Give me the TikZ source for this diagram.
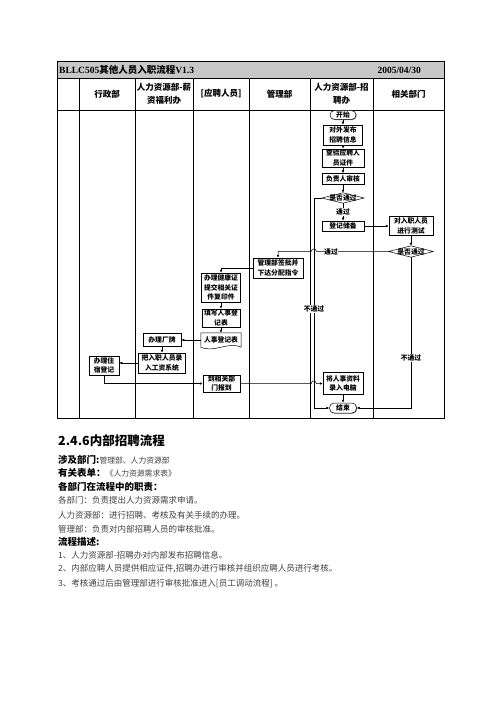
\documentclass[tikz,border=0pt]{standalone}
\usepackage{fontspec}
\setmainfont{Noto Sans CJK SC}
\newfontfamily\lat{Liberation Serif}
\usetikzlibrary{arrows.meta,calc,shadows}
\newcommand\bodyf{\fontsize{8.5}{10}\selectfont\color{black!75}}
\newcommand\smallbodyf{\fontsize{7.8}{10}\selectfont\color{black!75}}
\newcommand\headf{\fontsize{9.5}{12}\selectfont\bfseries}
\begin{document}
\begin{tikzpicture}[x=1pt,y=-1pt,
  tbl/.style={line width=0.6pt},
  box/.style={draw, line width=0.5pt, fill=white, inner sep=0pt, align=center,
    font=\fontsize{6.8}{9.5}\selectfont\bfseries,
    drop shadow={shadow xshift=0.7pt,shadow yshift=-0.7pt,fill=black!60,opacity=0.8}},
  term/.style={box, rounded corners=4.5pt},
  dia/.style={inner sep=0pt},
  dtxt/.style={inner sep=0pt, font=\fontsize{6.8}{9}\selectfont\bfseries},
  arr/.style={-{Latex[length=3pt,width=2.6pt]}, line width=0.5pt},
  lbl/.style={fill=white, inner sep=0.6pt, font=\fontsize{6.8}{8}\selectfont\bfseries},
  hd/.style={font=\fontsize{8.5}{13}\selectfont\bfseries, align=center, inner sep=0pt},
  hb/.style={anchor=west, inner sep=0pt}
]
\useasboundingbox (0,0) rectangle (500,708);

% ---------- table frame ----------
\fill[black!22] (57,61) rectangle (444,78);
\draw[tbl] (57,61) rectangle (444,418);
\draw[tbl] (57,78) -- (444,78);
\draw[tbl] (57,110) -- (444,110);
\foreach \x in {79,135,193,249,310,373} \draw[tbl] (\x,78) -- (\x,418);

\node[anchor=west, inner sep=0pt, font=\fontsize{9.5}{11}\selectfont\bfseries] (title) at (59,70) {{\lat BLLC505}其他人员入职流程{\lat V1.3}};
\node[anchor=east, inner sep=0pt, font=\fontsize{9.5}{11}\selectfont\bfseries] (date) at (421,70) {\lat 2005/04/30};

\node[hd] (h1) at (107,94) {行政部};
\node[hd] (h2) at (164,94) {人力资源部-薪\\资福利办};
\node[hd] (h3) at (221,94) {[应聘人员]};
\node[hd] (h4) at (279.5,94) {管理部};
\node[hd] (h5) at (341.5,94) {人力资源部-招\\聘办};
\node[hd] (h6) at (408.5,94) {相关部门};

% ---------- flow nodes ----------
\node[term, minimum width=26pt, minimum height=9pt] (s) at (343,115) {开始};
\node[box, minimum width=39pt, minimum height=20pt] (a1) at (343,135) {对外发布\\招聘信息};
\node[box, minimum width=42pt, minimum height=18pt] (a2) at (343,158) {查验应聘人\\员证件};
\node[box, minimum width=42pt, minimum height=11pt] (a3) at (343,179) {负责人审核};
\node[dia, minimum width=42pt, minimum height=10pt] (d1) at (343,198) {};
\draw[line width=0.5pt, fill=white] (d1.west) -- (d1.north) -- (d1.east) -- (d1.south) -- cycle;
\node[dtxt] (d1t) at (d1) {是否通过};
\node[box, minimum width=42pt, minimum height=10pt] (a4) at (343,226) {登记储备};
\node[box, minimum width=44pt, minimum height=19pt] (b1) at (411,226) {对入职人员\\进行测试};
\node[dia, minimum width=44pt, minimum height=11pt] (d2) at (411,251.5) {};
\draw[line width=0.5pt, fill=white] (d2.west) -- (d2.north) -- (d2.east) -- (d2.south) -- cycle;
\node[dtxt] (d2t) at (d2) {是否通过};
\node[box, minimum width=50pt, minimum height=20pt] (m1) at (278,268) {管理部签批并\\下达分配指令};
\node[box, minimum width=39pt, minimum height=29pt] (p1) at (221,287.5) {办理健康证\\提交相关证\\件复印件};
\node[box, minimum width=38pt, minimum height=18pt] (p2) at (221,318) {填写人事登\\记表};
\node[inner sep=0pt, minimum width=40pt, minimum height=14pt] (p3) at (221,340) {};
\draw[line width=0.5pt, fill=white] (p3.south west) -- (p3.north west) -- (p3.north east) -- (p3.south east)
  .. controls +(-14,-6) and +(14,6) .. (p3.south west) -- cycle;
\node[dtxt] (p3t) at (p3) {人事登记表};
\node[box, minimum width=38pt, minimum height=13pt] (w1) at (162,340) {办理厂牌};
\node[box, minimum width=47pt, minimum height=20pt] (w2) at (162,363) {把入职人员录\\入工资系统};
\node[box, minimum width=30pt, minimum height=19pt] (x1) at (104,365.5) {办理住\\宿登记};
\node[box, minimum width=37pt, minimum height=17pt] (p4) at (221.5,383.5) {到相关部\\门报到};
\node[box, minimum width=40pt, minimum height=22pt] (a5) at (343,383.5) {将人事资料\\录入电脑};
\node[term, minimum width=27pt, minimum height=10pt] (e) at (343,408) {结束};

% ---------- connectors ----------
\draw[arr] (s.south) -- (a1.north);
\draw[arr] (a1.south) -- (a2.north);
\draw[arr] (a2.south) -- (a3.north);
\draw[arr] (a3.south) -- (d1.north);
\draw[arr] (d1.south) -- node[lbl] (l1) {通过} (a4.north);
\draw[arr] (a4.east) -- (b1.west);
\draw[arr] (b1.south) -- (d2.north);
\coordinate (v1) at ($(d1.west)+(-8,0)$);
\draw[arr] (d2.west) -- ($(v1 |- d2.west)+(2.5,0)$) arc[start angle=0,end angle=-180,radius=2.5]
  -- (m1.north |- d2.west) -- (m1.north);
\node[lbl] (l2) at (331,251.5) {通过};
\draw[arr] (d1.west) -- (v1) -- (v1 |- e.west) -- (e.west);
\node[lbl] (l3) at (314,309) {不通过};
\draw[arr] (d2.south) -- (d2.south |- e.east) -- (e.east);
\node[lbl] (l4) at (411,358) {不通过};
\draw[arr] (m1.west) -| (p1.north);
\draw[arr] (p1.south) -- (p2.north);
\draw[arr] (p2.south) -- (p3.north);
\draw[arr] (p3.west) -- (w1.east);
\draw[arr] (w1.south) -- (w2.north);
\draw[arr] (w2.west) -- (w2.west -| x1.east);
\draw[arr] (x1.south) |- (p4.west);
\draw[arr] (p4.east) -- ($(v1 |- p4.east)+(-2.5,0)$) arc[start angle=180,end angle=360,radius=2.5] -- (a5.west);
\draw[arr] (a5.south) -- (e.north);

% ---------- text below ----------
\node[hb, font=\fontsize{12.5}{14}\selectfont\bfseries] (t0) at (58,441) {2.4.6内部招聘流程};
\node[hb] (t1) at (58,460) {{\headf 涉及部门:}{\smallbodyf 管理部、人力资源部}};
\node[hb] (t2) at (58,473) {{\headf 有关表单：}{\smallbodyf 《人力资源需求表》}};
\node[hb] (t3) at (58,487) {\headf 各部门在流程中的职责：};
\node[hb] (t4) at (58,500.5) {\bodyf 各部门：负责提出人力资源需求申请。};
\node[hb] (t5) at (58,515) {\bodyf 人力资源部：进行招聘、考核及有关手续的办理。};
\node[hb] (t6) at (58,529) {\bodyf 管理部：负责对内部招聘人员的审核批准。};
\node[hb] (t7) at (58,542) {\headf 流程描述:};
\node[hb] (t8) at (58,555) {\bodyf 1、人力资源部-招聘办对内部发布招聘信息。};
\node[hb] (t9) at (58,569) {\bodyf 2、内部应聘人员提供相应证件,招聘办进行审核并组织应聘人员进行考核。};
\node[hb] (t10) at (58,584) {\bodyf 3、考核通过后由管理部进行审核批准进入[员工调动流程] 。};
\end{tikzpicture}
\end{document}
